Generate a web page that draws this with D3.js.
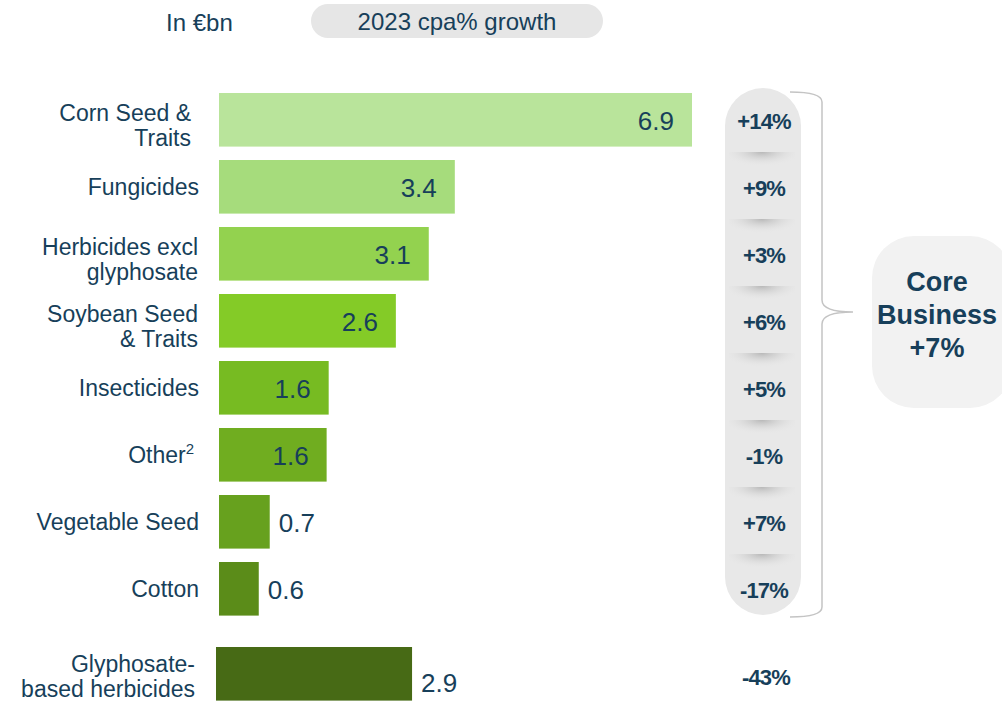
<!DOCTYPE html>
<html lang="en">
<head>
<meta charset="utf-8">
<title>Crop protection &amp; seeds market</title>
<script src="https://cdn.jsdelivr.net/npm/d3@7"></script>
<style>
  html, body { margin: 0; padding: 0; background: #fff; overflow: hidden; }
  svg { display: block; font-family: "Liberation Sans", Arial, sans-serif; }
</style>
</head>
<body>
<div id="chart"></div>
<script>
// data (in €bn, 2023)
var categories = ["Corn Seed & Traits", "Fungicides", "Herbicides excl glyphosate", "Soybean Seed & Traits",
                  "Insecticides", "Other", "Vegetable Seed", "Cotton"];
var labelLines = [["Corn Seed &", "Traits"], ["Fungicides"], ["Herbicides excl", "glyphosate"], ["Soybean Seed", "& Traits"],
                  ["Insecticides"], ["Other"], ["Vegetable Seed"], ["Cotton"]];
var values = [6.9, 3.44, 3.06, 2.58, 1.6, 1.57, 0.74, 0.58];
var growth = ["+14%", "+9%", "+3%", "+6%", "+5%", "-1%", "+7%", "-17%"];
var barColors = ["#b9e49b", "#a6dc7c", "#93d24f", "#84cb27", "#77bb22", "#70ad20", "#67a11e", "#5b8c19"];

var glyphoLabel = ["Glyphosate-", "based herbicides"];
var glyphoValue = 2.86;
var glyphoGrowth = "-43%";
var glyphoColor = "#476a15";

var coreLines = ["Core", "Business", "+7%"];

var w = 1002, h = 701;
var textColor = "#173f5a";

var svg = d3.select("#chart").append("svg")
  .attr("width", w)
  .attr("height", h);

var x = d3.scaleLinear().domain([0, 6.9]).range([219, 692]);

var step = 67;
var y = d3.scaleBand()
  .domain(categories)
  .range([93, 93 + 7.8 * step])
  .paddingInner(0.2)
  .paddingOuter(0);

var fmt = d3.format(".1f");

// header
svg.append("text")
  .attr("x", 166).attr("y", 31)
  .attr("font-size", 24).attr("fill", textColor)
  .text("In €bn");

svg.append("rect")
  .attr("x", 311).attr("y", 4).attr("width", 292).attr("height", 34)
  .attr("rx", 17).attr("fill", "#e6e6e6");
svg.append("text")
  .attr("x", 457).attr("y", 30)
  .attr("text-anchor", "middle")
  .attr("font-size", 24).attr("fill", textColor)
  .text("2023 cpa% growth");

// growth pill + shadows
var defs = svg.append("defs");
var grad = defs.append("radialGradient")
  .attr("id", "cellShadow")
  .attr("cx", "50%").attr("cy", "0%").attr("r", "60%");
grad.append("stop").attr("offset", "0%").attr("stop-color", "#b8b8b8");
grad.append("stop").attr("offset", "100%").attr("stop-color", "#e8e8e8").attr("stop-opacity", 0);

svg.append("rect")
  .attr("x", 725).attr("y", 88).attr("width", 76).attr("height", 527)
  .attr("rx", 38).attr("fill", "#e8e8e8");

svg.selectAll("rect.shadow")
  .data(categories.slice(1))
  .enter().append("rect")
  .attr("class", "shadow")
  .attr("x", 729).attr("width", 66)
  .attr("y", function(d) { return y(d) - 8; })
  .attr("height", 24)
  .attr("fill", "url(#cellShadow)");

// bracket
var bTop = 92, bBot = 617, bMid = 312, bx = 822;
svg.append("path")
  .attr("fill", "none").attr("stroke", "#c4c4c4").attr("stroke-width", 1.5)
  .attr("d", "M790," + bTop + " Q" + bx + "," + bTop + " " + bx + "," + (bTop + 10) +
             " L" + bx + "," + (bMid - 12) +
             " Q" + bx + "," + bMid + " 853," + bMid +
             " Q" + bx + "," + bMid + " " + bx + "," + (bMid + 12) +
             " L" + bx + "," + (bBot - 10) +
             " Q" + bx + "," + bBot + " 790," + bBot);

// core business pill
svg.append("rect")
  .attr("x", 872).attr("y", 236).attr("width", 140).attr("height", 172)
  .attr("rx", 42).attr("fill", "#f2f2f2");
svg.selectAll("text.core")
  .data(coreLines)
  .enter().append("text")
  .attr("class", "core")
  .attr("x", 937)
  .attr("y", function(d, i) { return 291 + i * 33; })
  .attr("text-anchor", "middle")
  .attr("font-size", 27).attr("font-weight", "bold").attr("fill", textColor)
  .text(function(d) { return d; });

// bars
svg.selectAll("rect.bar")
  .data(categories)
  .enter().append("rect")
  .attr("class", "bar")
  .attr("x", x(0))
  .attr("y", function(d) { return y(d); })
  .attr("width", function(d, i) { return x(values[i]) - x(0); })
  .attr("height", y.bandwidth())
  .attr("fill", function(d, i) { return barColors[i]; });

// value labels
svg.selectAll("text.val")
  .data(categories)
  .enter().append("text")
  .attr("class", "val")
  .attr("font-size", 26).attr("fill", textColor)
  .attr("y", function(d) { return y(d) + y.bandwidth() / 2 + 10; })
  .attr("x", function(d, i) { return values[i] >= 1 ? x(values[i]) - 18 : x(values[i]) + 9; })
  .attr("text-anchor", function(d, i) { return values[i] >= 1 ? "end" : "start"; })
  .text(function(d, i) { return fmt(values[i]); });

// category labels
var labels = svg.selectAll("text.cat")
  .data(categories)
  .enter().append("text")
  .attr("class", "cat")
  .attr("text-anchor", "end")
  .attr("font-size", 23).attr("fill", textColor);

labels.each(function(d, i) {
  var t = d3.select(this);
  var lines = labelLines[i];
  var cy = y(d) + y.bandwidth() / 2;
  if (d === "Other") {
    t.attr("x", 194).attr("y", cy + 8);
    t.append("tspan").text("Other");
    t.append("tspan").attr("font-size", 15).attr("dy", -9).text("2");
  } else if (lines.length === 1) {
    t.append("tspan").attr("x", 199).attr("y", cy + 8).text(lines[0]);
  } else {
    lines.forEach(function(l, k) {
      t.append("tspan").attr("x", i === 0 ? 191 : 198).attr("y", cy + 1 + k * 25).text(l);
    });
  }
});

// growth labels
svg.selectAll("text.gr")
  .data(categories)
  .enter().append("text")
  .attr("class", "gr")
  .attr("x", 764)
  .attr("y", function(d) { return y(d) + y.bandwidth() / 2 + 9; })
  .attr("text-anchor", "middle")
  .attr("font-size", 22).attr("font-weight", "bold").attr("letter-spacing", -0.8).attr("fill", textColor)
  .text(function(d, i) { return growth[i]; });

// glyphosate (outside core business)
var gy = 647, gh = y.bandwidth(), gcy = gy + gh / 2;
svg.append("rect")
  .attr("x", x(0) - 3).attr("y", gy)
  .attr("width", x(glyphoValue) - x(0))
  .attr("height", gh)
  .attr("fill", glyphoColor);
svg.append("text")
  .attr("x", x(glyphoValue) + 6).attr("y", gcy + 18)
  .attr("font-size", 26).attr("fill", textColor)
  .text(fmt(glyphoValue));
var gt = svg.append("text").attr("text-anchor", "end").attr("font-size", 23).attr("fill", textColor);
glyphoLabel.forEach(function(l, k) {
  gt.append("tspan").attr("x", 195).attr("y", gcy - 2 + k * 25).text(l);
});
svg.append("text")
  .attr("x", 766).attr("y", gcy + 11)
  .attr("text-anchor", "middle")
  .attr("font-size", 22).attr("font-weight", "bold").attr("letter-spacing", -0.8).attr("fill", textColor)
  .text(glyphoGrowth);
</script>
</body>
</html>
